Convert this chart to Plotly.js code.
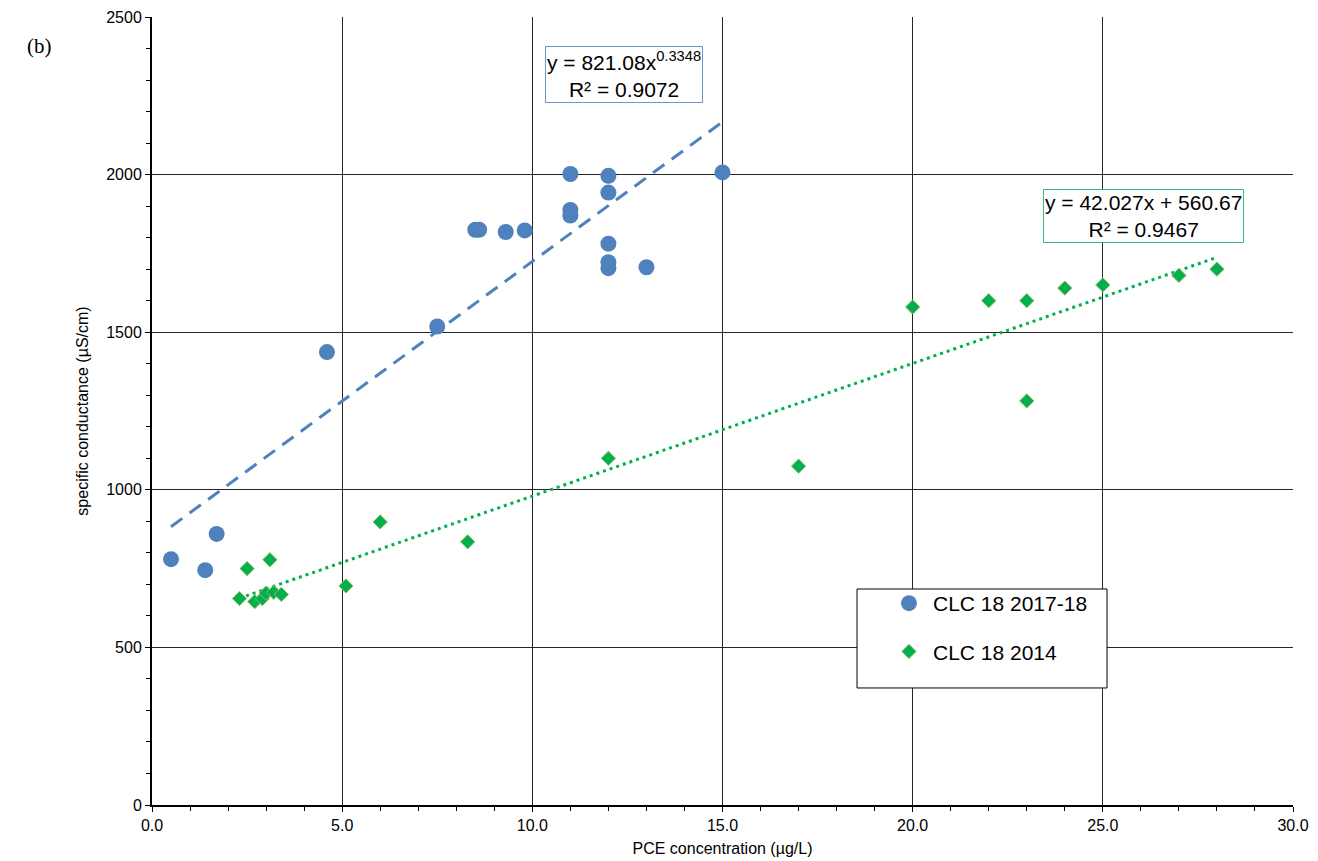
<!DOCTYPE html>
<html><head><meta charset="utf-8">
<script src="https://cdn.plot.ly/plotly-3.0.1.min.js"></script>
<style>html,body{margin:0;padding:0;background:#fff}#chart{width:1318px;height:861px}</style>
</head><body><div id="chart"></div>
<script>
// ---- data ----
const seriesNames = ['CLC 18 2017-18', 'CLC 18 2014'];
const pce2017 = [0.5, 1.4, 1.7, 4.6, 7.5, 8.5, 8.6, 9.3, 9.8, 11, 11, 11, 12, 12, 12, 12, 12, 13, 15];
const sc2017  = [780, 745, 860, 1437, 1518, 1825, 1825, 1818, 1823, 2002, 1888, 1870, 1996, 1943, 1781, 1722, 1703, 1706, 2007];
const pce2014 = [2.3, 2.5, 2.7, 2.9, 3.0, 3.1, 3.2, 3.4, 5.1, 6.0, 8.3, 12, 17, 20, 22, 23, 23, 24, 25, 27, 28];
const sc2014  = [655, 750, 645, 655, 672, 778, 675, 668, 695, 898, 835, 1100, 1075, 1580, 1600, 1600, 1282, 1640, 1650, 1680, 1700];
const eqText2017 = ['y = 821.08x<sup>0.3348</sup>', 'R² = 0.9072'];
const eqText2014 = ['y = 42.027x + 560.67', 'R² = 0.9467'];
const xTitle = 'PCE concentration (µg/L)';
const yTitle = 'specific conductance (µS/cm)';
const panelLabel = '(b)';

// least-squares linear trend through a series
function linFit(xs, ys) {
  const n = xs.length;
  const mx = xs.reduce((a, b) => a + b, 0) / n;
  const my = ys.reduce((a, b) => a + b, 0) / n;
  let sxy = 0, sxx = 0;
  for (let i = 0; i < n; i++) { sxy += (xs[i] - mx) * (ys[i] - my); sxx += (xs[i] - mx) ** 2; }
  const m = sxy / sxx;
  const b = my - m * mx;
  const x0 = Math.min(...xs), x1 = Math.max(...xs);
  return { x: [x0, x1], y: [m * x0 + b, m * x1 + b] };
}
const fit2017 = linFit(pce2017, sc2017);
const fit2014 = linFit(pce2014, sc2014);

const FONT = 'Liberation Sans, Arial, sans-serif';
const BLUE = '#4f81bd';
const GREEN = '#00b050';

const traces = [
  { x: fit2017.x, y: fit2017.y, mode: 'lines', type: 'scatter', showlegend: false, hoverinfo: 'skip',
    line: { color: BLUE, width: 3, dash: '14px,9px' } },
  { x: fit2014.x, y: fit2014.y, mode: 'lines', type: 'scatter', showlegend: false, hoverinfo: 'skip',
    line: { color: GREEN, width: 3, dash: '3px,4px' } },
  { x: pce2017, y: sc2017, mode: 'markers', type: 'scatter', name: seriesNames[0], legendgroup: 'a',
    marker: { symbol: 'circle', size: 16, color: BLUE } },
  { x: pce2014, y: sc2014, mode: 'markers', type: 'scatter', name: seriesNames[1], legendgroup: 'b',
    marker: { symbol: 'diamond', size: 11, color: GREEN, line: { color: '#9bbb59', width: 1 } } }
];

const axisCommon = {
  showgrid: true, gridcolor: '#262626', gridwidth: 1,
  showline: true, linecolor: '#000', linewidth: 2,
  ticks: 'outside', ticklen: 5, tickwidth: 1, tickcolor: '#000',
  zeroline: false, tickfont: { family: FONT, size: 16, color: '#000' },
  fixedrange: true
};

const layout = {
  width: 1318, height: 861,
  paper_bgcolor: '#fff', plot_bgcolor: '#fff',
  margin: { l: 152, r: 25, t: 17, b: 56 },
  font: { family: FONT, color: '#000' },
  xaxis: Object.assign({}, axisCommon, {
    range: [0, 30], dtick: 5, tick0: 0, tickformat: '.1f',
    minor: { dtick: 1, ticks: 'outside', ticklen: 4, tickcolor: '#000', showgrid: false },
    title: { text: xTitle, font: { family: FONT, size: 16, color: '#000' }, standoff: 10 }
  }),
  yaxis: Object.assign({}, axisCommon, {
    range: [0, 2500], dtick: 500, tick0: 0,
    minor: { dtick: 100, ticks: 'outside', ticklen: 4, tickcolor: '#000', showgrid: false },
    title: { text: yTitle, font: { family: FONT, size: 16, color: '#000' }, standoff: 14 }
  }),
  showlegend: true,
  legend: {
    x: 0.6424, y: 0.2817, xanchor: 'left', yanchor: 'top',
    bgcolor: 'rgba(0,0,0,0)', borderwidth: 0,
    font: { family: FONT, size: 21, color: '#000' },
    itemwidth: 38,
    traceorder: 'grouped', tracegroupgap: 18
  },
  shapes: [
    { type: 'rect', xref: 'paper', yref: 'paper', x0: 0.6179, x1: 0.837, y0: 0.1485, y1: 0.2741,
      fillcolor: '#fff', line: { color: '#000', width: 1 }, layer: 'above' }
  ],
  annotations: [
    { xref: 'paper', yref: 'paper', x: -0.0982, y: 0.963, xanchor: 'center', yanchor: 'middle',
      text: panelLabel, showarrow: false,
      font: { family: 'Liberation Serif, Times New Roman, serif', size: 21, color: '#000' } },
    { xref: 'x', yref: 'y', x: 12.42, y: 2317, text: eqText2017.join('<br>'), showarrow: false,
      font: { family: FONT, size: 21, color: '#000' }, bgcolor: '#fff',
      bordercolor: '#6f94c8', borderwidth: 1, borderpad: 1 },
    { xref: 'x', yref: 'y', x: 26.08, y: 1869, text: eqText2014.join('<br>'), showarrow: false,
      font: { family: FONT, size: 21, color: '#000' }, bgcolor: '#fff',
      bordercolor: '#3cb878', borderwidth: 1, borderpad: 1 }
  ]
};

Plotly.newPlot('chart', traces, layout, { displayModeBar: false, staticPlot: true });
</script>
</body></html>
